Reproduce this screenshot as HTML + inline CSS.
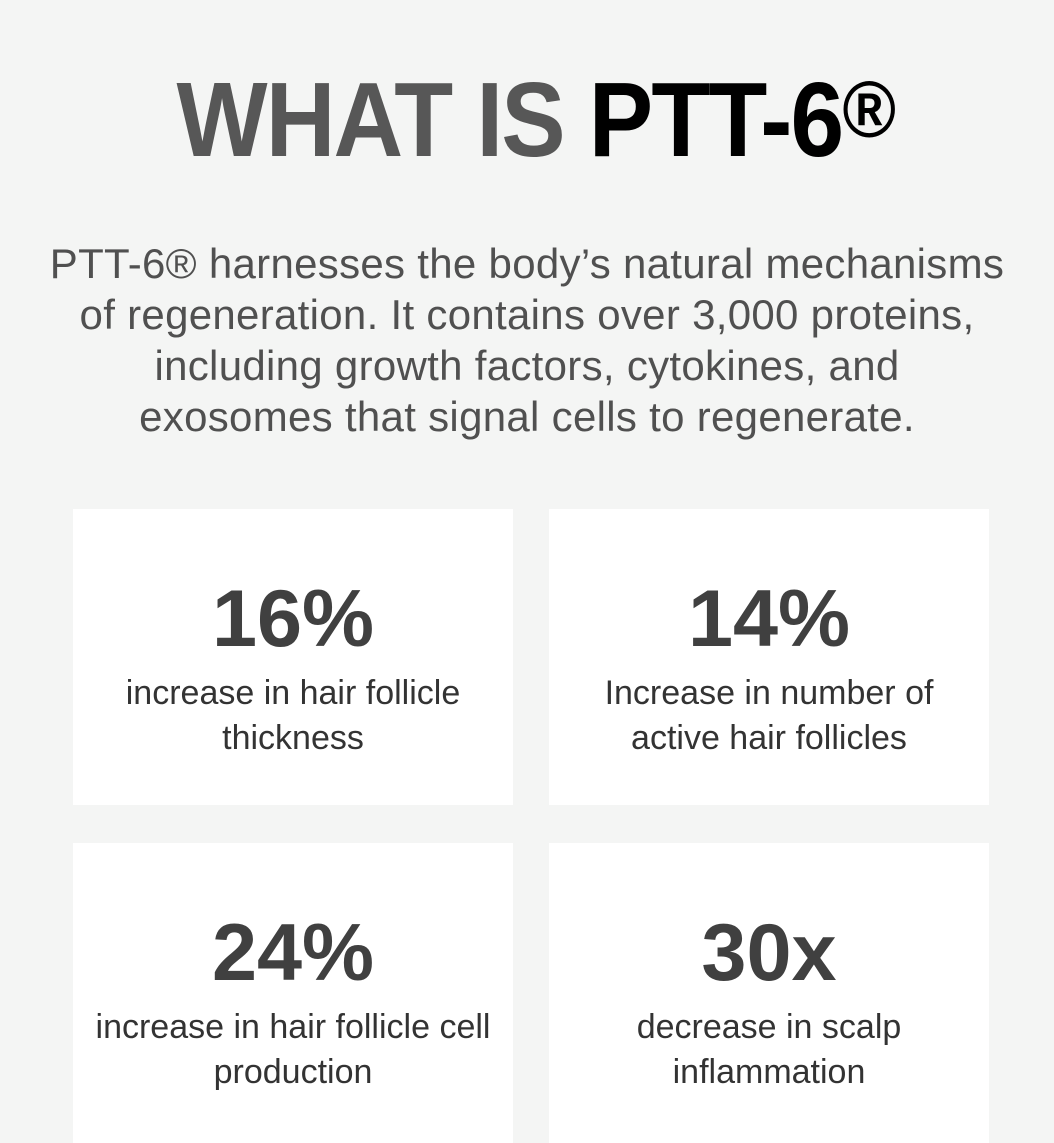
<!DOCTYPE html>
<html><head><meta charset="utf-8"><style>
*{margin:0;padding:0;box-sizing:border-box}
body{width:1054px;height:1110px;overflow:hidden;background:#f4f5f4;font-family:"Liberation Sans",sans-serif;position:relative}
.title{position:absolute;left:0;top:60px;width:1054px;text-align:center;white-space:nowrap}
.title span.in{display:inline-block;font-weight:bold;font-size:106px;line-height:120px;transform:scaleX(0.91);transform-origin:center;letter-spacing:-2px;position:relative;left:8px}
.g{color:#575757}.k{color:#000}
.reg{font-size:80px;vertical-align:top;position:relative;top:-10px;font-weight:bold}
.p{position:absolute;left:0;top:238px;width:1054px;text-align:center;font-size:42px;line-height:51px;color:#505050;letter-spacing:0.3px;white-space:nowrap}
.card{position:absolute;background:#fff;width:440px;text-align:center;color:#3c3c3c}
.num{font-weight:bold;font-size:81px;line-height:100px;color:#404040;margin-top:60px}
.sub{font-size:34px;line-height:45px;color:#333;margin-top:2px;white-space:nowrap}
</style></head><body>
<div class="title"><span class="in"><span class="g">WHAT IS </span><span class="k">PTT-6<span class="reg">®</span></span></span></div>
<div class="p">PTT-6® harnesses the body’s natural mechanisms<br>of regeneration. It contains over 3,000 proteins,<br>including growth factors, cytokines, and<br>exosomes that signal cells to regenerate.</div>
<div class="card" style="left:73px;top:509px;height:296px"><div class="num">16%</div><div class="sub">increase in hair follicle<br>thickness</div></div>
<div class="card" style="left:549px;top:509px;height:296px"><div class="num">14%</div><div class="sub">Increase in number of<br>active hair follicles</div></div>
<div class="card" style="left:73px;top:843px;height:300px"><div class="num">24%</div><div class="sub">increase in hair follicle cell<br>production</div></div>
<div class="card" style="left:549px;top:843px;height:300px"><div class="num">30x</div><div class="sub">decrease in scalp<br>inflammation</div></div>
</body></html>
